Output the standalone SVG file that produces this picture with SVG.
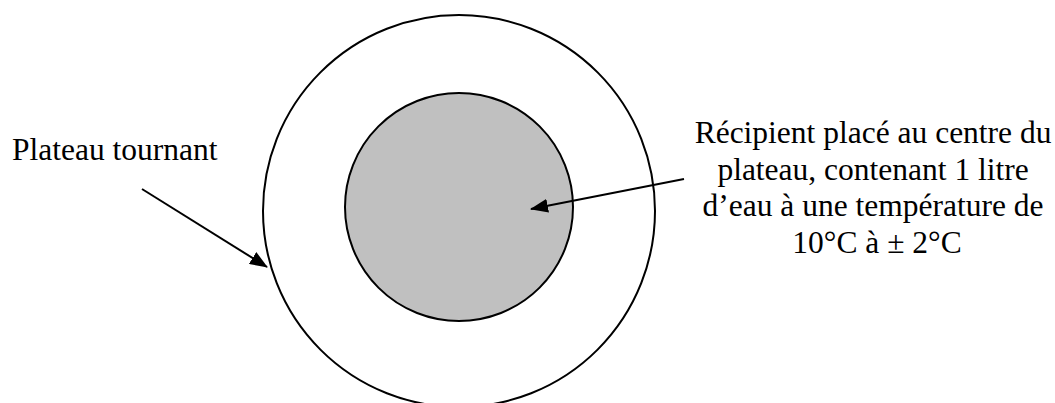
<svg xmlns="http://www.w3.org/2000/svg" width="1055" height="403" viewBox="0 0 1055 403">
<style>
.c{stroke:#000;stroke-width:2}
.t{font-family:"Liberation Serif","Times New Roman",serif;font-size:31.5px;fill:#000}
.a{stroke:#000;stroke-width:2;fill:none;marker-end:url(#ah)}
</style>
<defs>
<marker id="ah" markerUnits="userSpaceOnUse" markerWidth="18" markerHeight="14" viewBox="0 0 18 14" refX="17" refY="7" orient="auto">
<path d="M0,0 L18,7 L0,14 Z" fill="#000"/>
</marker>
</defs>
<rect width="1055" height="403" fill="#fff"/>
<g id="plateau">
<circle class="c" cx="459" cy="211" r="196" fill="#fff"/>
</g>
<g id="recipient">
<circle class="c" cx="459" cy="207" r="114" fill="#c0c0c0"/>
</g>
<g id="label-plateau">
<text class="t" x="12" y="160">Plateau tournant</text>
</g>
<g id="label-recipient">
<text class="t" text-anchor="middle">
<tspan x="877" y="143">Récipient placé au centre du</tspan>
<tspan x="877" y="180">plateau, contenant 1 litre</tspan>
<tspan x="877" y="216">d’eau à une température de</tspan>
<tspan x="877" y="253">10°C à ± 2°C</tspan>
</text>
</g>
<g id="connectors">
<line class="a" x1="142" y1="189" x2="267" y2="267"/>
<line class="a" x1="684" y1="179" x2="531" y2="209"/>
</g>
</svg>
